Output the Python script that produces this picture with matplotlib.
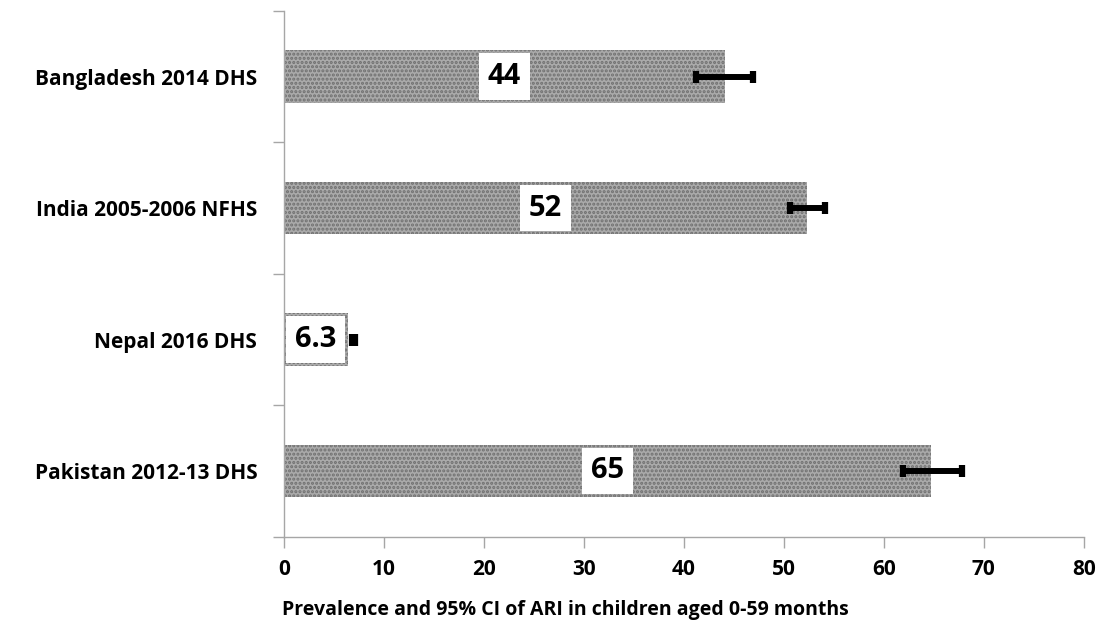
import matplotlib
matplotlib.use("Agg")
import matplotlib.pyplot as plt
import numpy as np

# survey rows, bottom to top
surveys = ["Pakistan 2012-13 DHS", "Nepal 2016 DHS",
           "India 2005-2006 NFHS", "Bangladesh 2014 DHS"]
prevalence = [64.7, 6.4, 52.3, 44.1]
labels = ["65", "6.3", "52", "44"]
ci_low = [61.9, 6.8, 50.6, 41.2]
ci_high = [67.8, 7.1, 54.1, 46.9]

plt.rcParams['font.family'] = ['Open Sans', 'DejaVu Sans']
plt.rcParams['hatch.linewidth'] = 1.5

fig = plt.figure(figsize=(11.13, 6.32), dpi=100)
ax = fig.add_axes([0.2549, 0.1508, 0.7188, 0.8318])

y = np.arange(len(surveys))
ax.barh(y, prevalence, height=0.40, color='#aaaaaa', edgecolor='#6f6f6f',
        hatch='....', linewidth=0, zorder=2)

mid = [(lo + hi) / 2 for lo, hi in zip(ci_low, ci_high)]
half = [(hi - lo) / 2 for lo, hi in zip(ci_low, ci_high)]
ax.errorbar(mid, y, xerr=half, fmt='none', ecolor='black', elinewidth=4.3,
            capsize=4.3, capthick=4.5, zorder=4)

for yi, v, lab in zip(y, prevalence, labels):
    ax.text(v / 2, yi, lab, ha='center', va='center', fontsize=21,
            fontweight='bold', zorder=5,
            bbox=dict(boxstyle='square,pad=0.3', fc='white', ec='none'))

ax.set_xlim(0, 80)
ax.set_ylim(-0.5, 3.5)
ax.set_xticks(range(0, 81, 10))
ax.set_yticks(np.arange(-0.5, 3.6, 1.0))
ax.set_yticklabels([])
ax.set_yticks(y, minor=True)
ax.set_yticklabels(surveys, minor=True, fontsize=15, fontweight='bold')
ax.tick_params(axis='y', which='major', length=8, color='#a6a6a6', width=1)
ax.tick_params(axis='y', which='minor', length=0, pad=19)
ax.tick_params(axis='x', length=8, color='#a6a6a6', width=1, labelsize=15, pad=8)
for t in ax.get_xticklabels():
    t.set_fontweight('bold')

for s in ['top', 'right']:
    ax.spines[s].set_visible(False)
for s in ['left', 'bottom']:
    ax.spines[s].set_color('#a6a6a6')
    ax.spines[s].set_linewidth(1)

ax.set_xlabel('Prevalence and 95% CI of ARI in children aged 0-59 months',
              fontsize=14, fontweight='bold')
ax.xaxis.set_label_coords(0.352, -0.12)

fig.savefig('out.png', dpi=100)
